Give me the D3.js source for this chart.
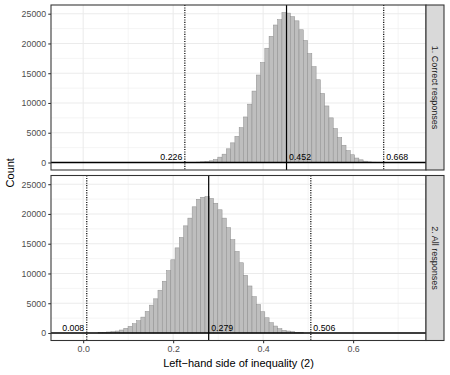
<!DOCTYPE html>
<html>
<head>
<meta charset="utf-8">
<script src="https://cdn.jsdelivr.net/npm/d3@7"></script>
<style>
  body { margin: 0; background: #fff; }
  svg { font-family: 'Liberation Sans', Arial, sans-serif; }
</style>
</head>
<body>
<div id="chart"></div>
<script>
'use strict';

// histogram bins (lower edge of first bin, common bin width)
var binWidth = 0.0095;
var panelNames = ['1. Correct responses', '2. All responses'];
var binStarts = [0.24225, 0.03325];

var correctCounts = [30, 60, 110, 170, 280, 500, 900, 1400, 2300, 3300, 4400, 5850, 7650, 9800,
    12000, 14700, 16800, 19200, 21200, 23100, 24000, 25200, 25100, 24500, 23800, 22300, 20500,
    18300, 16100, 13900, 11600, 9500, 7500, 5700, 4200, 2900, 2000, 1300, 750, 450, 220, 100, 50, 20];

var allCounts = [50, 100, 170, 220, 330, 500, 780, 1110, 1560, 2060, 2670, 3620, 4680, 5740, 7190,
    8700, 10480, 12300, 14300, 16050, 18000, 19300, 21200, 22460, 22800, 22900, 22600, 21800, 20700,
    19300, 17700, 15670, 13700, 11800, 9700, 7900, 6100, 4790, 3570, 2560, 1730, 1170, 720, 450, 330,
    220, 120, 60];

var meanValues = [0.452, 0.279];
var lowerBounds = [0.226, 0.008];
var upperBounds = [0.668, 0.506];

var xTicks = [0, 0.2, 0.4, 0.6];
var xMinor = [0.1, 0.3, 0.5, 0.7];
var yTicks = [0, 5000, 10000, 15000, 20000, 25000];
var yMinor = [2500, 7500, 12500, 17500, 22500];

var width = 450, height = 375;
var plot = { left: 51, right: 426, top: 5, panelHeight: 165, gap: 5.5 };
var stripWidth = 18;

var svg = d3.select('#chart').append('svg')
    .attr('width', width)
    .attr('height', height);

var x = d3.scaleLinear().domain([-0.0715, 0.762]).range([plot.left, plot.right]);

var allSeries = [correctCounts, allCounts];
var yMax = d3.max(allSeries, function(s) { return d3.max(s); });

allSeries.forEach(function(counts, i) {
    var top = plot.top + i * (plot.panelHeight + plot.gap);
    var bottom = top + plot.panelHeight;
    var y = d3.scaleLinear().domain([-0.05 * yMax, 1.05 * yMax]).range([bottom, top]);

    var bins = counts.map(function(c, j) {
        return { x0: binStarts[i] + j * binWidth, x1: binStarts[i] + (j + 1) * binWidth, count: c };
    });

    var g = svg.append('g');

    // grid
    g.selectAll('line.xminor').data(xMinor).enter().append('line')
        .attr('x1', x).attr('x2', x).attr('y1', top).attr('y2', bottom)
        .style('stroke', '#ebebeb').style('stroke-width', 0.55);
    g.selectAll('line.yminor').data(yMinor).enter().append('line')
        .attr('x1', plot.left).attr('x2', plot.right)
        .attr('y1', y).attr('y2', y)
        .style('stroke', '#ebebeb').style('stroke-width', 0.55);
    g.selectAll('line.xmajor').data(xTicks).enter().append('line')
        .attr('x1', x).attr('x2', x).attr('y1', top).attr('y2', bottom)
        .style('stroke', '#ebebeb').style('stroke-width', 1.07);
    g.selectAll('line.ymajor').data(yTicks).enter().append('line')
        .attr('x1', plot.left).attr('x2', plot.right)
        .attr('y1', y).attr('y2', y)
        .style('stroke', '#ebebeb').style('stroke-width', 1.07);

    // bars
    g.selectAll('rect.bar').data(bins).enter().append('rect')
        .attr('x', function(d) { return x(d.x0); })
        .attr('width', function(d) { return x(d.x1) - x(d.x0); })
        .attr('y', function(d) { return y(d.count); })
        .attr('height', function(d) { return y(0) - y(d.count); })
        .style('fill', '#bebebe')
        .style('stroke', '#8e8e8e')
        .style('stroke-width', 0.5);

    // reference lines
    [lowerBounds[i], upperBounds[i]].forEach(function(v) {
        g.append('line')
            .attr('x1', x(v)).attr('x2', x(v)).attr('y1', top).attr('y2', bottom)
            .style('stroke', '#000').style('stroke-width', 1.2)
            .style('stroke-dasharray', '1.1,1.3');
    });
    g.append('line')
        .attr('x1', x(meanValues[i])).attr('x2', x(meanValues[i]))
        .attr('y1', top).attr('y2', bottom)
        .style('stroke', '#000').style('stroke-width', 1.2);
    g.append('line')
        .attr('x1', plot.left).attr('x2', plot.right)
        .attr('y1', y(0)).attr('y2', y(0))
        .style('stroke', '#000').style('stroke-width', 1.4);

    // value labels
    var labels = [
        { v: lowerBounds[i], anchor: 'end', dx: -2.5 },
        { v: meanValues[i], anchor: 'start', dx: 2.5 },
        { v: upperBounds[i], anchor: 'start', dx: 2.5 }
    ];
    g.selectAll('text.val').data(labels).enter().append('text')
        .attr('x', function(d) { return x(d.v) + d.dx; })
        .attr('y', y(0) - 2.5)
        .attr('text-anchor', function(d) { return d.anchor; })
        .style('font-size', '8.8px')
        .style('fill', '#000')
        .text(function(d) { return d3.format('.3f')(d.v); });

    // panel border
    g.append('rect')
        .attr('x', plot.left).attr('y', top)
        .attr('width', plot.right - plot.left).attr('height', plot.panelHeight)
        .style('fill', 'none').style('stroke', '#333').style('stroke-width', 1.07);

    // y axis
    var yAxis = g.append('g')
        .attr('transform', 'translate(' + plot.left + ',0)')
        .call(d3.axisLeft(y).tickValues(yTicks).tickSize(2.75).tickPadding(2.2).tickFormat(d3.format('d')));
    yAxis.select('.domain').remove();
    yAxis.selectAll('line').style('stroke', '#333').style('stroke-width', 1.07);
    yAxis.selectAll('text').style('font-size', '8.8px').style('fill', '#4d4d4d')
        .style('font-family', "'Liberation Sans', Arial, sans-serif");

    // strip
    g.append('rect')
        .attr('x', plot.right).attr('y', top)
        .attr('width', stripWidth).attr('height', plot.panelHeight)
        .style('fill', '#d9d9d9').style('stroke', '#333').style('stroke-width', 1.07);
    g.append('text')
        .attr('transform', 'translate(' + (plot.right + stripWidth / 2) + ',' + (top + plot.panelHeight / 2) + ') rotate(90)')
        .attr('text-anchor', 'middle')
        .attr('dy', '0.35em')
        .style('font-size', '9px')
        .style('fill', '#1a1a1a')
        .text(panelNames[i]);

    if (i === allSeries.length - 1) {
        var xAxis = g.append('g')
            .attr('transform', 'translate(0,' + bottom + ')')
            .call(d3.axisBottom(x).tickValues(xTicks).tickSize(2.75).tickPadding(2.2).tickFormat(d3.format('.1f')));
        xAxis.select('.domain').remove();
        xAxis.selectAll('line').style('stroke', '#333').style('stroke-width', 1.07);
        xAxis.selectAll('text').style('font-size', '8.8px').style('fill', '#4d4d4d')
            .style('font-family', "'Liberation Sans', Arial, sans-serif");
    }
});

// axis titles
var plotBottom = plot.top + 2 * plot.panelHeight + plot.gap;
svg.append('text')
    .attr('x', (plot.left + plot.right) / 2)
    .attr('y', plotBottom + 26)
    .attr('text-anchor', 'middle')
    .style('font-size', '11px')
    .text('Left\u2212hand side of inequality (2)');

svg.append('text')
    .attr('transform', 'translate(14,' + (plot.top + plotBottom) / 2 + ') rotate(-90)')
    .attr('text-anchor', 'middle')
    .style('font-size', '11px')
    .text('Count');
</script>
</body>
</html>
